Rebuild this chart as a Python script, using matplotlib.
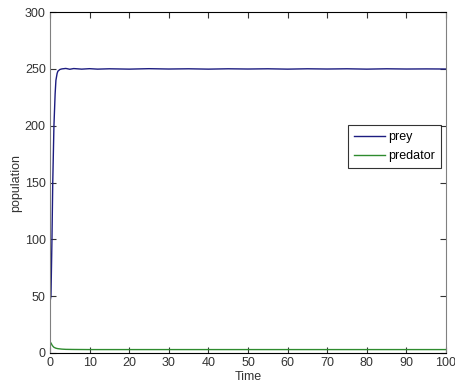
import matplotlib
matplotlib.use("Agg")
import matplotlib.pyplot as plt

# values
time = [0, 0.25, 0.5, 0.7, 1.0, 1.3, 1.5, 1.8, 2.0, 2.5, 3, 4, 5, 6, 8, 10, 12, 15,
        20, 25, 30, 35, 40, 45, 50, 55, 60, 65, 70, 75, 80, 85, 90, 95, 100]
prey = [45, 50, 100, 150, 200, 228, 240, 246, 248, 249.5, 250, 250.4, 249.7, 250.3,
        249.8, 250.2, 249.8, 250.1, 249.8, 250.2, 249.9, 250.1, 249.8, 250.1, 249.9,
        250.1, 249.8, 250.1, 249.9, 250.1, 249.8, 250.1, 249.9, 250.0, 249.9]
pred_time = [0, 0.3, 0.6, 1.0, 1.5, 2.0, 3.0, 4.0, 6.0, 10, 20, 40, 60, 80, 100]
predator = [10, 8.5, 6.5, 5.0, 4.2, 3.8, 3.4, 3.2, 3.1, 3.0, 3.0, 3.0, 3.0, 3.0, 3.0]

plt.rcParams["font.family"] = ["Liberation Sans", "DejaVu Sans"]

fig = plt.figure(figsize=(4.56, 3.90), dpi=100)
ax = fig.add_axes([0.1096, 0.0949, 0.8684, 0.8741])

ax.plot(time, prey, color="#1c1c80", linewidth=1.0, label="prey")
ax.plot(pred_time, predator, color="#2e8b2e", linewidth=1.0, label="predator")

ax.set_xlim(0, 100)
ax.set_ylim(0, 300)
ax.set_xticks(range(0, 101, 10))
ax.set_yticks(range(0, 301, 50))
ax.tick_params(direction="in", top=True, right=True, length=4, width=0.8,
               labelsize=9, colors="#333333", pad=3)
for side in ("top", "bottom"):
    ax.spines[side].set_color("black")
for side in ("left", "right"):
    ax.spines[side].set_color("#808080")

ax.set_xlabel("Time", fontsize=9, color="#333333", labelpad=1)
ax.set_ylabel("population", fontsize=9, color="#333333", labelpad=2)

leg = ax.legend(loc="upper right", bbox_to_anchor=(0.987, 0.669), fontsize=9,
                frameon=True, fancybox=False, handlelength=2.5, borderpad=0.5,
                labelspacing=0.55, handletextpad=0.2, borderaxespad=0)
leg.get_frame().set_edgecolor("black")
leg.get_frame().set_linewidth(0.8)

fig.savefig("out.png", dpi=100)
